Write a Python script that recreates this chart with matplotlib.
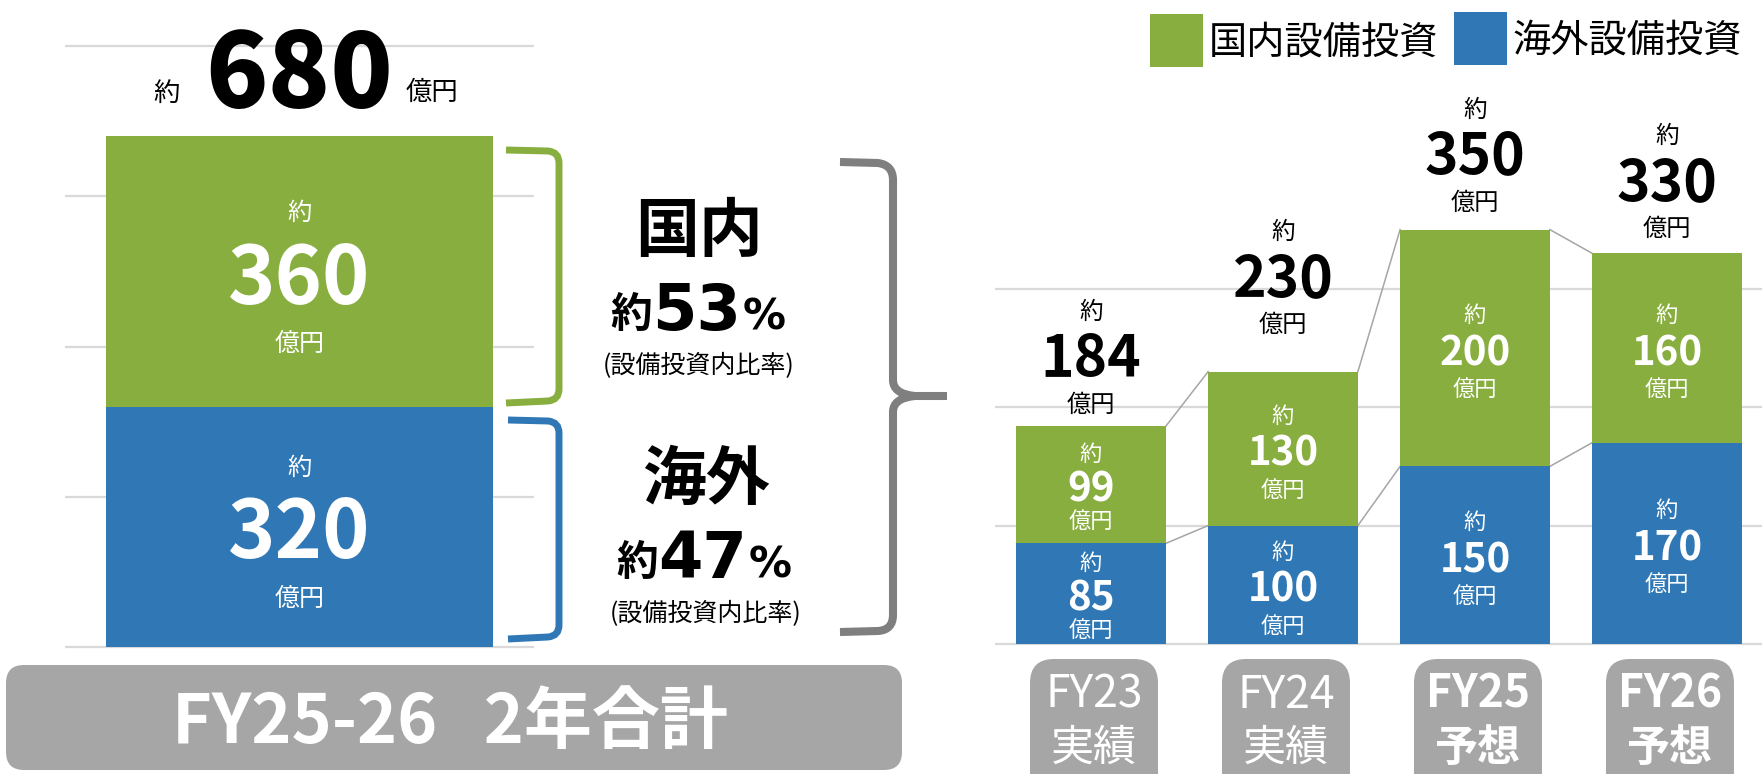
import matplotlib
matplotlib.use("Agg")
import matplotlib.pyplot as plt
from matplotlib.patches import FancyBboxPatch, Rectangle, PathPatch
from matplotlib.path import Path

plt.rcParams['font.family'] = ['Noto Sans CJK JP', 'DejaVu Sans']

# 左: FY25-26 2年合計
sum_title = "FY25-26   2年合計"
sum_dom = 360
sum_ovs = 320
sum_total = 680
share_dom = 53
share_ovs = 47

# 右: 年度別
years = ["FY23", "FY24", "FY25", "FY26"]
kinds = ["実績", "実績", "予想", "予想"]
dom = [99, 130, 200, 160]
ovs = [85, 100, 150, 170]
legend_names = ["国内設備投資", "海外設備投資"]

GREEN = "#88AE3F"
BLUE = "#2F78B5"
GRID = "#D9D9D9"
GRAY = "#A6A6A6"
DARK = "#7F7F7F"

W, H = 1762, 774
fig = plt.figure(figsize=(W / 100, H / 100), dpi=100)


def rect(l, t, r, b):
    return [l / W, 1 - b / H, (r - l) / W, (b - t) / H]


def clean(ax):
    ax.tick_params(left=False, bottom=False, labelleft=False, labelbottom=False)
    for s in ax.spines.values():
        s.set_visible(False)
    ax.yaxis.grid(True, color=GRID, lw=1.6)
    ax.set_axisbelow(True)
    ax.patch.set_alpha(0)


def put(ax, x, y, s, dy, size, color='black', weight='normal', dx=0):
    ax.annotate(s, (x, y), xytext=(dx, dy), textcoords='offset pixels',
                ha='center', va='baseline', fontsize=size, color=color,
                fontweight=weight, annotation_clip=False, zorder=6)


# ---- 左の棒 ----
k1 = 601 / 800
ax1 = fig.add_axes(rect(65, 647 - 810 * k1, 534, 647 + 6 * k1))
ax1.set_xlim(-0.5, 0.5)
ax1.set_ylim(-6, 810)
ax1.set_yticks(range(0, 801, 200))
clean(ax1)
ax1.bar(0, sum_ovs, 0.827, color=BLUE, zorder=2)
ax1.bar(0, sum_dom, 0.827, bottom=sum_ovs, color=GREEN, zorder=2)

ym = sum_ovs + sum_dom / 2
put(ax1, 0, ym, "約", 51.5, 17.5, 'white')
put(ax1, 0, ym, str(sum_dom), -32.5, 58, 'white', 'bold')
put(ax1, 0, ym, "億円", -79.5, 18, 'white')
ym = sum_ovs / 2
put(ax1, 0, ym, "約", 52, 17.5, 'white')
put(ax1, 0, ym, str(sum_ovs), -31, 58, 'white', 'bold')
put(ax1, 0, ym, "億円", -79, 18, 'white')
put(ax1, 0, sum_total, str(sum_total), 28, 74, weight='black')
put(ax1, 0, sum_total, "約", 35, 19, dx=-133)
put(ax1, 0, sum_total, "億円", 36, 19, dx=132)

# ---- 右の積み上げ棒 ----
k2 = 1.184
ax2 = fig.add_axes(rect(995, 644 - 370 * k2, 1762, 644 + 5 * k2))
ax2.set_xlim(-0.5, 3.495)
ax2.set_ylim(-5, 370)
ax2.set_yticks([0, 100, 200, 300])
clean(ax2)
xs = list(range(len(years)))
tot = [d + o for d, o in zip(dom, ovs)]
ax2.bar(xs, ovs, 0.78, color=BLUE, zorder=2)
ax2.bar(xs, dom, 0.78, bottom=ovs, color=GREEN, zorder=2)
for i in xs[:-1]:
    for s in (ovs, tot):
        ax2.plot([i + 0.39, i + 0.61], [s[i], s[i + 1]], color="#A5A5A5",
                 lw=1.1, zorder=1)

gap = [0.9, 1, 1, 1]
lift = [14, 40, 20, 17]
for i in xs:
    for val, mid in ((dom[i], ovs[i] + dom[i] / 2), (ovs[i], ovs[i] / 2)):
        put(ax2, i, mid, "約", 26 * gap[i], 16, 'white')
        put(ax2, i, mid, str(val), -17, 29, 'white', 'bold')
        put(ax2, i, mid, "億円", -48 * gap[i], 16, 'white')
    put(ax2, i, tot[i], "億円", lift[i], 17.5)
    put(ax2, i, tot[i], str(tot[i]), lift[i] + 35, 41, weight='bold')
    put(ax2, i, tot[i], "約", lift[i] + 93, 17)

# ---- 飾り（ピクセル座標の重ね軸） ----
ov = fig.add_axes([0, 0, 1, 1], zorder=5)
ov.set_xlim(0, W)
ov.set_ylim(H, 0)
ov.axis('off')

# 左下の見出し
ov.add_patch(FancyBboxPatch((6, 665), 896, 105, boxstyle="round,pad=0,rounding_size=18",
                            fc=GRAY, ec='none'))
ov.text(450, 743, sum_title, fontsize=49, weight='bold', color='white',
        ha='center', va='baseline')

# 括弧
C3, L, M = Path.CURVE3, Path.LINETO, Path.MOVETO
green_br = Path([(506, 150), (548, 151), (559, 152), (559, 163), (559, 389),
                 (559, 400), (548, 401), (506, 403)],
                [M, L, C3, C3, L, C3, C3, L])
blue_br = Path([(508, 420), (548, 421), (559, 422), (559, 433), (559, 625),
                (559, 636), (548, 637), (508, 639)],
               [M, L, C3, C3, L, C3, C3, L])
brace = Path([(840, 162), (878, 163), (893, 165), (893, 180), (893, 380),
              (893, 394), (915, 396), (947, 396),
              (915, 396), (893, 398), (893, 412), (893, 615), (893, 630),
              (878, 631), (840, 632)],
             [M, L, C3, C3, L, C3, C3, L,
              M, C3, C3, L, C3, C3, L])
ov.add_patch(PathPatch(green_br, fc='none', ec=GREEN, lw=5, capstyle='butt'))
ov.add_patch(PathPatch(blue_br, fc='none', ec=BLUE, lw=5, capstyle='butt'))
ov.add_patch(PathPatch(brace, fc='none', ec=DARK, lw=5.8, capstyle='butt'))

# 比率
for name, share, x0, base in (("国内", share_dom, 699, 0), ("海外", share_ovs, 706, 248)):
    dx = 0 if base == 0 else 6
    ov.text(x0, 251 + base, name, fontsize=46, weight='bold', ha='center', va='baseline')
    ov.text(631 + dx, 327 + base, "約", fontsize=30, weight='bold', ha='center', va='baseline')
    ov.text(697 + dx, 330 + base, str(share), fontsize=46, weight='bold', ha='center',
            va='baseline', family=['DejaVu Sans'])
    ov.text(764.5 + dx, 330 + base, "%", fontsize=31, weight='bold', ha='center',
            va='baseline', family=['DejaVu Sans'])
    ov.text(x0, 373 + base, "(設備投資内比率)", fontsize=18, ha='center', va='baseline')

# 凡例
for (x, y), name, col in (((1150, 14), legend_names[0], GREEN),
                          ((1454, 12), legend_names[1], BLUE)):
    ov.add_patch(Rectangle((x, y), 53, 53, fc=col, ec='none'))
    ov.text(x + 59, y + 40, name, fontsize=27.5, ha='left', va='baseline')

# 年度ラベル
for i in xs:
    cx = ax2.transData.transform((i, 0))[0] + 3
    ov.add_patch(FancyBboxPatch((cx - 64, 659), 128, 150,
                                boxstyle="round,pad=0,rounding_size=24",
                                fc=GRAY, ec='none', clip_on=False))
    w = 'bold' if kinds[i] == "予想" else 'normal'
    ov.text(cx, 708, years[i], fontsize=32, weight=w, color='white', ha='center', va='baseline')
    ov.text(cx, 761, kinds[i], fontsize=31, weight=w, color='white', ha='center', va='baseline')

fig.savefig("out.png", dpi=100)
